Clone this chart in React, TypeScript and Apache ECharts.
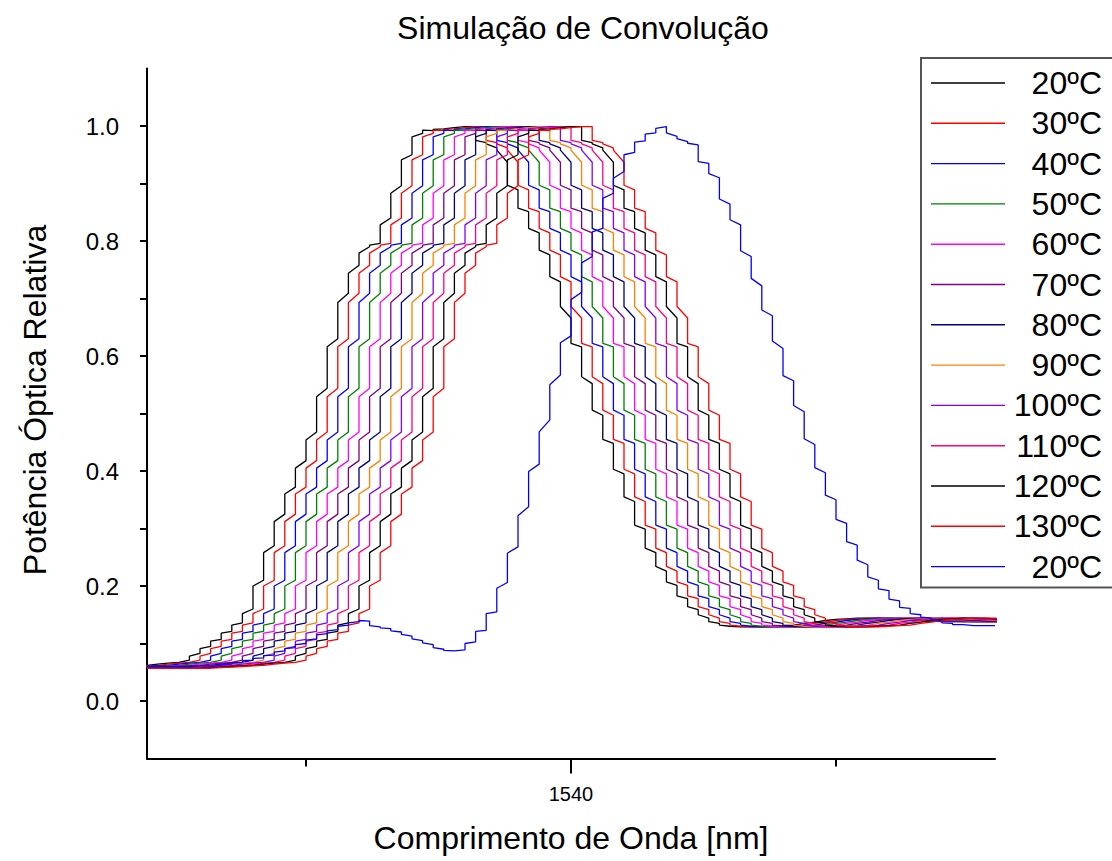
import React, { useEffect, useRef } from "react";
import * as echarts from "echarts";

// Sample grid (nm)
const sampleStep = 0.1;

// Base profile of the 20ºC convolution (each sample: value entering and leaving the vertical step)
const baseStart = 1534.9;
const baseEnter = [
  0.057, 0.057, 0.057, 0.057, 0.057, 0.057, 0.057, 0.058, 0.059, 0.06, 0.061,
  0.062, 0.064, 0.066, 0.067, 0.071, 0.083, 0.095, 0.107, 0.121, 0.136,
  0.16, 0.21, 0.27, 0.325, 0.372, 0.418, 0.468, 0.544, 0.63, 0.709,
  0.758, 0.79, 0.796, 0.84, 0.896, 0.95, 0.987, 0.992, 0.995, 0.997,
  0.999, 0.999, 0.971, 0.962, 0.937, 0.889, 0.851, 0.814, 0.776, 0.729,
  0.666, 0.616, 0.552, 0.497, 0.448, 0.395, 0.347, 0.299, 0.258, 0.226,
  0.201, 0.178, 0.159, 0.144, 0.135, 0.13, 0.129, 0.129, 0.129, 0.13,
  0.131, 0.132, 0.135, 0.137, 0.14, 0.142, 0.143, 0.144, 0.144, 0.144,
  0.143, 0.142, 0.141, 0.14, 0.139, 0.138, 0.138, 0.138, 0.138, 0.138, 0.138,
];
const baseExit = [
  0.057, 0.057, 0.057, 0.057, 0.057, 0.057, 0.058, 0.058, 0.059, 0.06, 0.061,
  0.063, 0.065, 0.066, 0.068, 0.078, 0.091, 0.104, 0.118, 0.132, 0.152,
  0.2, 0.258, 0.312, 0.36, 0.405, 0.454, 0.529, 0.616, 0.693, 0.744,
  0.779, 0.793, 0.828, 0.883, 0.941, 0.981, 0.993, 0.994, 0.996, 0.998,
  0.999, 0.975, 0.969, 0.958, 0.897, 0.857, 0.822, 0.784, 0.738, 0.686,
  0.622, 0.564, 0.506, 0.455, 0.403, 0.355, 0.306, 0.266, 0.234, 0.207,
  0.183, 0.164, 0.15, 0.138, 0.132, 0.13, 0.129, 0.129, 0.129, 0.13,
  0.131, 0.133, 0.135, 0.138, 0.14, 0.142, 0.143, 0.144, 0.144, 0.144,
  0.143, 0.142, 0.141, 0.14, 0.139, 0.138, 0.138, 0.138, 0.138, 0.138, 0.138,
];

// Temperature curves: name, wavelength shift (nm), colour
const tempNames = ["20ºC", "30ºC", "40ºC", "50ºC", "60ºC", "70ºC", "80ºC", "90ºC", "100ºC", "110ºC", "120ºC", "130ºC"];
const tempShifts = [0, 0.1, 0.2, 0.3, 0.4, 0.5, 0.6, 0.7, 0.8, 0.9, 1.0, 1.1];
const tempColors = ["#000000", "#FF0000", "#0000FF", "#008000", "#FF00FF", "#800080", "#000080", "#FF8000", "#8000FF", "#FF0080", "#000000", "#FF0000"];

// Separate 20ºC reference (blue) curve
const refName = "20ºC ";
const refColor = "#0000FF";
const refStart = 1536.0;
const refEnter = [
  0.06, 0.06, 0.06, 0.06, 0.06, 0.061, 0.061, 0.061, 0.064, 0.067,
  0.071, 0.075, 0.08, 0.087, 0.093, 0.1, 0.108, 0.117, 0.124, 0.132,
  0.138, 0.139, 0.129, 0.126, 0.12, 0.113, 0.105, 0.098, 0.09, 0.087,
  0.089, 0.103, 0.123, 0.155, 0.206, 0.268, 0.338, 0.412, 0.489, 0.567,
  0.635, 0.711, 0.773, 0.822, 0.883, 0.921, 0.954, 0.974, 0.988, 0.999,
  0.982, 0.973, 0.967, 0.935, 0.91, 0.864, 0.828, 0.773, 0.722, 0.67,
  0.613, 0.557, 0.503, 0.446, 0.397, 0.35, 0.309, 0.271, 0.237, 0.21,
  0.192, 0.174, 0.161, 0.15, 0.144, 0.139, 0.135, 0.133, 0.131, 0.131, 0.131,
];
const refExit = [
  0.06, 0.06, 0.06, 0.06, 0.061, 0.061, 0.061, 0.063, 0.066, 0.07,
  0.074, 0.079, 0.085, 0.091, 0.098, 0.106, 0.115, 0.122, 0.13, 0.136,
  0.14, 0.131, 0.127, 0.122, 0.116, 0.108, 0.101, 0.093, 0.088, 0.087,
  0.1, 0.121, 0.152, 0.196, 0.257, 0.322, 0.399, 0.468, 0.55, 0.623,
  0.698, 0.762, 0.816, 0.874, 0.909, 0.95, 0.972, 0.986, 0.996, 0.988,
  0.978, 0.97, 0.938, 0.917, 0.873, 0.837, 0.783, 0.735, 0.68, 0.626,
  0.566, 0.514, 0.456, 0.406, 0.358, 0.316, 0.277, 0.245, 0.216, 0.195,
  0.177, 0.163, 0.152, 0.146, 0.141, 0.136, 0.133, 0.132, 0.131, 0.131, 0.131,
];

// Axis values
const xMin = 1536;
const xMax = 1544;
const xLabelValues = [1540];
const xMinorTicks = [1537.5, 1542.5];
const yMin = -0.1;
const yMax = 1.1;
const yLabelValues = [0, 0.2, 0.4, 0.6, 0.8, 1.0];
const yTickValues = [0, 0.1, 0.2, 0.3, 0.4, 0.5, 0.6, 0.7, 0.8, 0.9, 1.0];

const titleText = "Simulação de Convolução";
const xTitle = "Comprimento de Onda [nm]";
const yTitle = "Potência Óptica Relativa";

const FONT = "'Liberation Sans', Arial, sans-serif";

function buildSteps(start: number, enter: number[], exit: number[], shift: number) {
  const out: [number, number][] = [];
  for (let i = 0; i < enter.length; i++) {
    const x = Math.round((start + i * sampleStep + shift) * 1000) / 1000;
    out.push([x, enter[i]]);
    out.push([x, exit[i]]);
  }
  return out;
}

export default function App() {
  const ref = useRef<HTMLDivElement>(null);
  useEffect(() => {
    if (!ref.current) return;
    const chart = echarts.init(ref.current, undefined, { renderer: "svg" });
    const series: any[] = tempNames.map((name, i) => ({
      name,
      type: "line",
      symbol: "none",
      clip: true,
      data: buildSteps(baseStart, baseEnter, baseExit, tempShifts[i]),
      lineStyle: { width: 1.3, color: tempColors[i] },
      itemStyle: { color: tempColors[i] },
      z: 2,
    }));
    series.push({
      name: refName,
      type: "line",
      symbol: "none",
      clip: true,
      data: buildSteps(refStart, refEnter, refExit, 0),
      lineStyle: { width: 1.3, color: refColor },
      itemStyle: { color: refColor },
      z: 3,
    });

    chart.setOption({
      animation: false,
      backgroundColor: "#ffffff",
      grid: { left: 147, top: 68.5, width: 848, height: 690, containLabel: false },
      xAxis: [
        {
          type: "value",
          min: xMin,
          max: xMax,
          splitLine: { show: false },
          axisLine: { onZero: false, lineStyle: { color: "#000", width: 2 } },
          axisTick: { customValues: xLabelValues, length: 15, lineStyle: { color: "#000", width: 2 } },
          axisLabel: {
            customValues: xLabelValues,
            margin: 25,
            fontSize: 20,
            fontFamily: FONT,
            color: "#000",
            formatter: (v: number) => String(v),
          },
        },
        {
          type: "value",
          min: xMin,
          max: xMax,
          position: "bottom",
          splitLine: { show: false },
          axisLine: { show: false, onZero: false },
          axisTick: { show: true, customValues: xMinorTicks, length: 8, lineStyle: { color: "#000", width: 2 } },
          axisLabel: { show: false },
        },
      ],
      yAxis: {
        type: "value",
        min: yMin,
        max: yMax,
        splitLine: { show: false },
        axisLine: { show: true, onZero: false, lineStyle: { color: "#000", width: 2 } },
        axisTick: { show: true, customValues: yTickValues, length: 7, lineStyle: { color: "#000", width: 2 } },
        axisLabel: {
          customValues: yLabelValues,
          margin: 28,
          fontSize: 24,
          fontFamily: FONT,
          color: "#000",
          formatter: (v: number) => v.toFixed(1),
        },
      },
      legend: {
        orient: "vertical",
        left: 921,
        top: 58,
        padding: [9, 40, 5, 10],
        icon: "rect",
        itemWidth: 74,
        itemHeight: 1.4,
        itemGap: 8.3,
        borderColor: "#555",
        borderWidth: 2,
        backgroundColor: "#fff",
        selectedMode: false,
        data: [...tempNames, refName],
        formatter: (n: string) => "{r|" + n.trim() + "}",
        textStyle: {
          fontSize: 32,
          fontFamily: FONT,
          color: "#000",
          lineHeight: 32,
          rich: { r: { width: 92, align: "right", fontSize: 32, fontFamily: FONT, color: "#000", lineHeight: 32 } },
        },
      },
      graphic: [
        {
          type: "text",
          x: 583,
          y: 28,
          style: { text: titleText, font: `32px ${FONT}`, fill: "#000", textAlign: "center", textVerticalAlign: "middle" },
        },
        {
          type: "text",
          x: 571,
          y: 838,
          style: { text: xTitle, font: `32px ${FONT}`, fill: "#000", textAlign: "center", textVerticalAlign: "middle" },
        },
        {
          type: "text",
          x: 35,
          y: 400,
          rotation: Math.PI / 2,
          style: { text: yTitle, font: `32px ${FONT}`, fill: "#000", textAlign: "center", textVerticalAlign: "middle" },
        },
      ],
      series,
    });
    return () => chart.dispose();
  }, []);
  return (
    <div
      ref={ref}
      style={{ position: "fixed", left: 0, top: 0, width: 1112, height: 861, background: "#fff" }}
    />
  );
}
